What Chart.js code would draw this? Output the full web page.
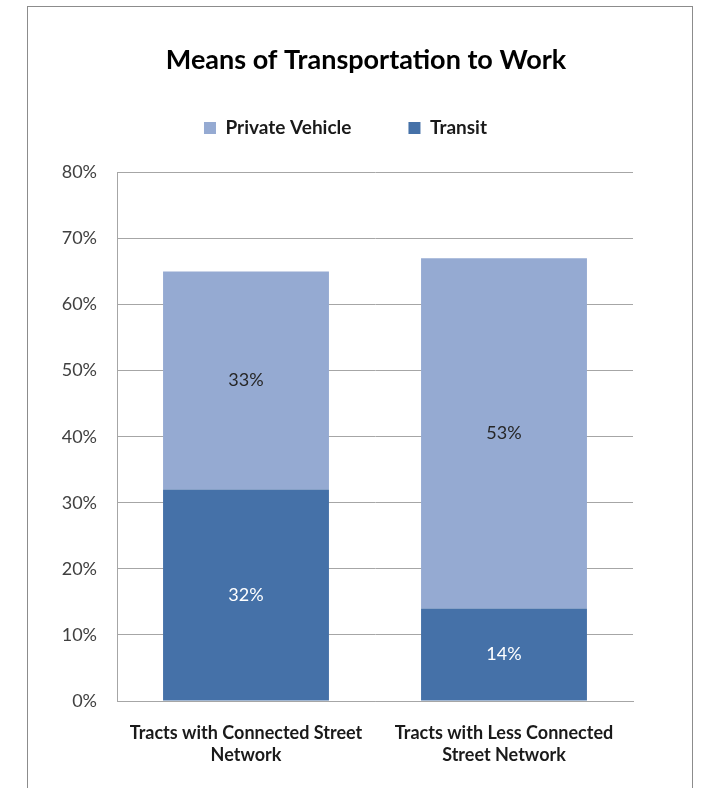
<!DOCTYPE html>
<html>
<head>
<meta charset="utf-8">
<script src="https://cdn.jsdelivr.net/npm/chart.js@4/dist/chart.umd.min.js"></script>
<style>
  body { margin: 0; background: #fff; }
  #wrap { position: relative; width: 706px; height: 788px; overflow: hidden; }
  #frame { position: absolute; left: 27px; top: 6px; width: 664px; height: 800px; border: 1px solid #8c8c8c; }
  #chart { position: absolute; left: 0; top: 0; }
</style>
</head>
<body>
<div id="wrap">
  <div id="frame"></div>
  <canvas id="chart" width="706" height="788"></canvas>
</div>
<script>
// chart values
let categories = [
    ['Tracts with Connected Street', 'Network'],
    ['Tracts with Less Connected', 'Street Network']
];
let transit = [32, 14];
let privateVehicle = [33, 53];
let yTicks = [0, 10, 20, 30, 40, 50, 60, 70, 80];

let fontName = 'Lato, "Open Sans", sans-serif';

// draws the % value in the middle of every bar segment
let barLabels = {
    id: 'barLabels',
    afterDatasetsDraw: function(chart) {
        let ctx = chart.ctx;
        ctx.save();
        ctx.font = '18px ' + fontName;
        ctx.textAlign = 'center';
        ctx.textBaseline = 'middle';
        chart.data.datasets.forEach(function(ds, i) {
            let meta = chart.getDatasetMeta(i);
            meta.data.forEach(function(bar, j) {
                ctx.fillStyle = ds.labelColor;
                ctx.fillText(ds.data[j] + '%', bar.x, (bar.y + bar.base) / 2);
            });
        });
        ctx.restore();
    }
};

// nudge title and legend sideways like the original
let shiftBlocks = {
    id: 'shiftBlocks',
    afterLayout: function(chart) {
        if (chart.titleBlock) { chart.titleBlock.left += 99; }
        if (chart.legend) {
            chart.legend.left += 29;
            chart.legend.right += 29;
        }
    }
};

new Chart(document.getElementById('chart'), {
    type: 'bar',
    data: {
        labels: categories,
        datasets: [
            { label: 'Transit', data: transit, backgroundColor: '#4571a8', labelColor: '#ffffff' },
            { label: 'Private Vehicle', data: privateVehicle, backgroundColor: '#95aad2', labelColor: '#262626' }
        ]
    },
    options: {
        responsive: false,
        animation: false,
        devicePixelRatio: 1,
        layout: { padding: { left: 0, right: 73, top: 0, bottom: 0 } },
        datasets: { bar: { barPercentage: 0.643, categoryPercentage: 1 } },
        plugins: {
            title: {
                display: true,
                text: 'Means of Transportation to Work',
                color: '#000000',
                font: { family: fontName, size: 27, weight: 'bold', lineHeight: 1.2 },
                padding: { top: 44, bottom: -15 }
            },
            legend: {
                display: true,
                reverse: true,
                labels: {
                    color: '#1a1a1a',
                    boxWidth: 12,
                    boxHeight: 12,
                    padding: 57,
                    font: { family: fontName, size: 19, weight: 'bold' }
                }
            },
            subtitle: {
                display: true,
                text: ' ',
                weight: 900,
                font: { size: 1, lineHeight: 1 },
                padding: { top: 24, bottom: 0 }
            },
            tooltip: { enabled: false }
        },
        scales: {
            x: {
                stacked: true,
                grid: { display: false },
                border: { display: true, color: '#a6a6a6', width: 1 },
                ticks: {
                    color: '#1a1a1a',
                    padding: 13,
                    maxRotation: 0,
                    font: { family: fontName, size: 18, weight: 'bold', lineHeight: 1.22 }
                },
                afterFit: function(scale) { scale.height = 87; }
            },
            y: {
                stacked: true,
                min: 0,
                max: 80,
                afterBuildTicks: function(scale) {
                    scale.ticks = yTicks.map(function(v) { return { value: v }; });
                },
                grid: { color: '#a6a6a6', drawTicks: false, lineWidth: 1 },
                border: { display: true, color: '#a6a6a6', width: 1 },
                ticks: {
                    color: '#404040',
                    padding: 20,
                    font: { family: fontName, size: 18 },
                    callback: function(v) { return v + '%'; }
                },
                afterFit: function(scale) { scale.width = 117; }
            }
        }
    },
    plugins: [barLabels, shiftBlocks]
});
</script>
</body>
</html>
